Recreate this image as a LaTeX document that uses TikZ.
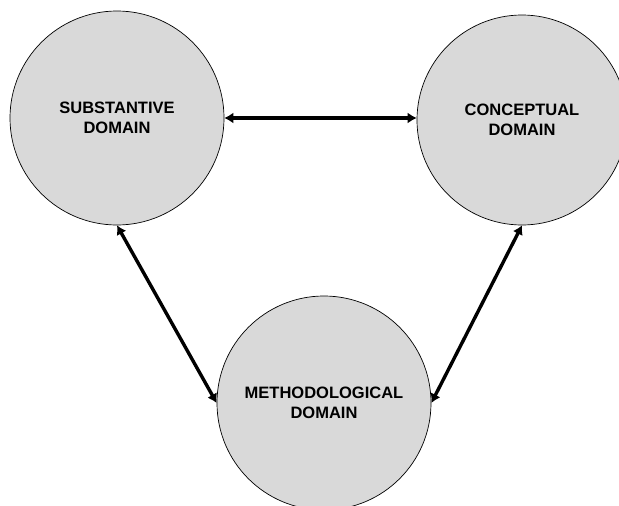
\documentclass[tikz,border=0pt]{standalone}
\usepackage{fontspec}
\setmainfont{Liberation Sans}
\usetikzlibrary{arrows.meta}
\definecolor{domainfill}{RGB}{217,217,217}
\begin{document}
\begin{tikzpicture}[x=1pt,y=-1pt,
  domainbubble/.style={circle, draw=black, line width=0.7pt, fill=domainfill,
    inner sep=0pt, align=center,
    font=\fontsize{16.5}{20}\selectfont\bfseries},
  link/.style={line width=3.4pt, {Latex[length=9pt,width=11pt]}-{Latex[length=9pt,width=11pt]}}]
  \clip (0,0) rectangle (619,506);
  \fill[white] (0,0) rectangle (619,506);
  \node[domainbubble, minimum size=214pt] (sub) at (117,118) {SUBSTANTIVE\\DOMAIN};
  \node[domainbubble, minimum size=210pt] (con) at (522,120) {CONCEPTUAL\\DOMAIN};
  \node[domainbubble, minimum size=214pt] (met) at (324,403) {METHODOLOGICAL\\DOMAIN};
  \draw[link] (sub.east) -- (sub.east -| con.west);
  \draw[link] (sub.south) -- (met.west);
  \draw[link] (con.south) -- (met.east);
\end{tikzpicture}
\end{document}
